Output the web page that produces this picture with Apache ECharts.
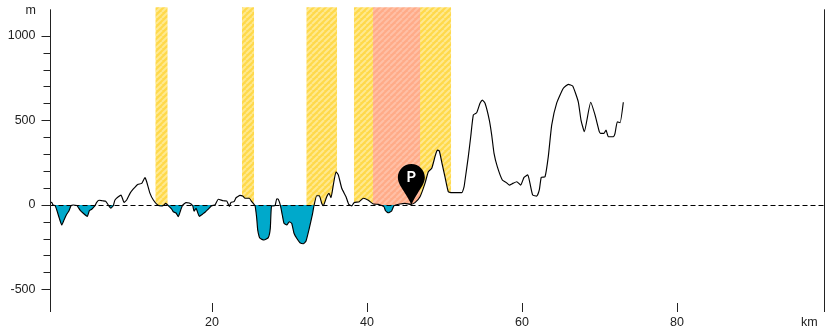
<!DOCTYPE html>
<html><head><meta charset="utf-8">
<style>html,body{margin:0;padding:0;background:#fff}#c{width:830px;height:327px}</style>
<script src="https://cdn.jsdelivr.net/npm/echarts@6/dist/echarts.min.js"></script>
</head><body><div id="c"></div>
<script>
const distanceKm = [-0.81,-0.68,-0.52,-0.26,0,0.30,0.61,0.90,1.20,1.55,1.81,2.10,2.54,2.97,3.39,3.91,4.17,4.48,4.90,5.12,5.42,5.85,6.28,6.62,6.93,7.26,7.48,7.91,8.26,8.65,8.99,9.42,9.85,10.41,10.93,11.35,11.57,12.0,12.43,12.99,13.42,13.72,14.03,14.36,14.80,15.01,15.35,15.65,16.0,16.22,16.65,17.07,17.51,17.68,17.94,18.36,18.80,19.10,19.52,19.96,20.39,20.81,21.46,21.90,22.23,22.45,22.84,23.10,23.61,23.96,24.26,24.81,25.12,25.55,25.77,25.90,26.19,26.71,27.26,27.52,27.68,28.13,28.35,28.55,28.83,29.07,29.29,29.64,29.97,30.28,30.58,30.93,31.35,31.78,32.13,32.55,32.94,33.16,33.51,33.85,34.15,34.36,34.80,35.10,35.35,35.65,36.0,36.30,36.74,37.29,37.64,38.03,38.32,39.01,39.52,40.17,40.81,41.46,41.90,42.19,42.39,42.75,43.19,43.48,44.26,44.90,45.64,46.19,46.84,47.48,47.91,48.35,48.77,49.07,49.33,49.72,50.06,50.49,50.93,52.22,52.52,52.65,53.07,53.38,53.72,54.15,54.58,54.88,55.23,55.78,56.09,56.39,56.81,57.46,57.94,58.36,58.80,59.32,59.83,60.26,60.74,61.03,61.38,61.90,62.23,62.49,62.97,63.39,63.83,64.48,65.33,65.97,66.54,67.26,67.61,68.04,68.86,69.42,69.97,70.15,70.58,70.84,71.14,71.78,72.0,72.30,72.65,73.07];
const elevationM = [14,16,0,-3,-34,-79,-118,-89,-59,-34,-4,0,-2,-30,-49,-67,-34,-25,-4,16,28,25,22,0,-18,-4,30,49,59,16,30,69,95,122,128,162,138,69,30,0,-6,-3,10,-4,-24,-40,-47,-69,-24,0,14,12,-4,-36,-20,-67,-53,-43,-24,-4,0,34,25,24,-8,16,20,43,57,53,40,40,20,-4,-79,-148,-197,-207,-193,-138,-6,-4,36,34,-4,-59,-108,-118,-99,-108,-167,-197,-223,-229,-213,-138,-59,-4,55,55,10,-4,49,69,43,118,197,178,99,49,4,-6,14,20,40,28,6,4,-3,-10,-34,-46,-34,-4,6,10,4,14,49,128,197,217,286,325,320,237,167,79,73,73,108,148,286,404,533,546,602,621,602,503,414,306,227,148,134,118,128,138,118,164,178,128,59,53,89,164,167,286,473,604,691,714,704,611,503,434,608,533,434,424,424,444,404,404,424,493,487,608];
const yellowBands = [[12.71,14.26],[23.87,25.42],[32.19,36.13],[38.32,40.77],[46.84,50.84]];
const redBands = [[40.77,46.84]];
const xTicks = [20,40,60,80];
const yMajor = [-500,0,500,1000];
const yMinor = [-400,-300,-200,-100,100,200,300,400,600,700,800,900];
const markerKm = 45.72;
const markerLabel = 'P';

const FONT = '"Liberation Sans", Arial, sans-serif';
const INK = '#222';
const X_MIN = -0.84, X_MAX = 99.03, Y_MIN = -633, Y_MAX = 1170, AXIS_TOP = 1158;
const G = {left:50.5, right:5.5, top:7.3, bottom:15, outerBoundsMode:'none'};
const H = 327 - G.top - G.bottom;
const zeroY = (G.top + H * Y_MAX / (Y_MAX - Y_MIN)) / 327;

function stripes(base, light){
  const n = 6, c = document.createElement('canvas');
  c.width = n; c.height = n;
  const g = c.getContext('2d');
  g.fillStyle = base; g.fillRect(0,0,n,n);
  g.strokeStyle = light; g.lineWidth = 2;
  for (let i = -n; i <= 2*n; i += n) { g.beginPath(); g.moveTo(i, n); g.lineTo(i+n, 0); g.stroke(); }
  return {image:c, repeat:'repeat'};
}
const band = (b, col) => [{xAxis:b[0], yAxis:Y_MAX, itemStyle:{color:col}},{xAxis:b[1], yAxis:0}];
const yellow = stripes('#FFD94A','#FFE98F');
const red = stripes('#FFAB88','#FFC0A6');
const PIN = 'path://M13.5 0C21 0 27 6 27 13.5C27 19 23 24 20 29C17.5 33 15 37 13.5 41C12 37 9.5 33 7 29C4 24 0 19 0 13.5C0 6 6 0 13.5 0Z';

const chart = echarts.init(document.getElementById('c'), null, {renderer:'canvas'});
chart.setOption({
  animation:false,
  backgroundColor:'#fff',
  grid:G,
  xAxis:{type:'value', min:X_MIN, max:X_MAX, splitLine:{show:false}, axisLine:{show:false, onZero:false},
    axisTick:{show:true, inside:true, length:9, customValues:xTicks, lineStyle:{color:INK}},
    axisLabel:{customValues:xTicks, margin:4, fontFamily:FONT, fontSize:12.5, color:INK}},
  yAxis:[
    {type:'value', min:Y_MIN, max:Y_MAX, splitLine:{show:false}, axisLine:{show:false, onZero:false},
     axisTick:{show:true, length:9, customValues:yMajor, lineStyle:{color:INK}},
     axisLabel:{customValues:yMajor, formatter:v=>String(v), margin:15, fontFamily:FONT, fontSize:12.5, color:INK}},
    {type:'value', min:Y_MIN, max:Y_MAX, position:'left', splitLine:{show:false}, axisLine:{show:false, onZero:false},
     axisTick:{show:true, length:7, customValues:yMinor, lineStyle:{color:INK}},
     axisLabel:{show:false}}
  ],
  series:[
    {type:'line', z:1, data:[], silent:true,
     markArea:{silent:true, data:yellowBands.map(b=>band(b,yellow)).concat(redBands.map(b=>band(b,red)))}},
    {type:'line', z:2, silent:true, data:distanceKm.map((k,i)=>[k,elevationM[i]]),
     showSymbol:false, smooth:0.15, lineStyle:{color:'#000',width:1.15},
     areaStyle:{origin:0, opacity:1, color:{type:'linear',x:0,y:0,x2:0,y2:327,global:true,
       colorStops:[{offset:0,color:'#fff'},{offset:zeroY,color:'#fff'},{offset:zeroY,color:'#00A9CB'},{offset:1,color:'#00A9CB'}]}}},
    {type:'line', z:3, data:[], silent:true,
     markLine:{silent:true, symbol:'none', label:{show:false}, animation:false, data:[
       [{coord:[X_MIN,0],lineStyle:{color:'#000',width:1,type:[5,3]}},{coord:[X_MAX,0]}],
       [{coord:[X_MIN,AXIS_TOP],lineStyle:{color:INK,width:1,type:'solid'}},{coord:[X_MIN,Y_MIN]}],
       [{coord:[X_MAX,AXIS_TOP],lineStyle:{color:INK,width:1,type:'solid'}},{coord:[X_MAX,Y_MIN]}]
     ]}},
    {type:'line', z:5, data:[], silent:true,
     markPoint:{silent:true, symbol:PIN, symbolSize:[27,41], symbolOffset:[0,'-50%'],
       itemStyle:{color:'#000'},
       label:{show:true, formatter:markerLabel, position:'inside', offset:[0,-7], color:'#fff',
              fontFamily:'Inter, sans-serif', fontWeight:600, fontSize:15},
       data:[{coord:[markerKm,0]}]}}
  ],
  graphic:[
    {type:'text', left:25.5, top:4, silent:true, style:{text:'m', font:'12.5px '+FONT, fill:INK}},
    {type:'text', left:801, top:316, silent:true, style:{text:'km', font:'12.5px '+FONT, fill:INK}}
  ]
});
</script></body></html>
